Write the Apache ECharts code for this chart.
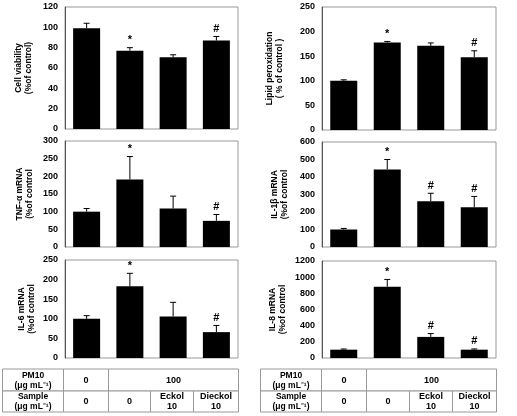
<!DOCTYPE html>
<html><head><meta charset="utf-8">
<script src="https://cdn.jsdelivr.net/npm/echarts@6/dist/echarts.min.js"></script>
<style>html,body{margin:0;padding:0;background:#fff}#c{width:517px;height:416px}</style>
</head><body><div id="c"></div>
<script>
const categories = ['Control', 'PM10', 'PM10+Eckol', 'PM10+Dieckol'];

const cellViability = [99, 77, 70.5, 87];
const cellViabilityErr = [5, 3, 2.5, 4];
const cellViabilityMark = ['', '*', '', '#'];

const lipidPerox = [100, 178, 171, 148];
const lipidPeroxErr = [2, 2, 6, 13];
const lipidPeroxMark = ['', '*', '', '#'];

const tnfMrna = [100, 191, 109, 74];
const tnfMrnaErr = [9, 65, 35, 18];
const tnfMrnaMark = ['', '*', '', '#'];

const il1bMrna = [100, 443, 261, 227];
const il1bMrnaErr = [6, 57, 46, 62];
const il1bMrnaMark = ['', '*', '#', '#'];

const il6Mrna = [100, 183, 106, 66];
const il6MrnaErr = [8, 33, 36, 17];
const il6MrnaMark = ['', '*', '', '#'];

const il8Mrna = [103, 881, 261, 103];
const il8MrnaErr = [8, 91, 41, 9];
const il8MrnaMark = ['', '*', '#', '#'];

const yTitles = [
  'Cell viability\n(%of control)',
  'Lipid peroxidation\n( % of control )',
  'TNF-α mRNA\n(%of control',
  'IL-1β mRNA\n(%of control',
  'IL-6 mRNA\n(%of control',
  'IL-8 mRNA\n(%of control'
];
const yMax = [120, 250, 300, 600, 250, 1200];
const yInterval = [20, 50, 50, 100, 50, 200];

const tableRowLabels = ['PM10\n(μg mL⁻¹)', 'Sample\n(μg mL⁻¹)'];
const tablePm10 = ['0', '100'];
const tableSample = ['0', '0', 'Eckol\n10', 'Dieckol\n10'];

const panels = [
  [cellViability, cellViabilityErr, cellViabilityMark],
  [lipidPerox, lipidPeroxErr, lipidPeroxMark],
  [tnfMrna, tnfMrnaErr, tnfMrnaMark],
  [il1bMrna, il1bMrnaErr, il1bMrnaMark],
  [il6Mrna, il6MrnaErr, il6MrnaMark],
  [il8Mrna, il8MrnaErr, il8MrnaMark]
];

const FONT = 'Liberation Sans, Arial, sans-serif';
const grids = [
  {left: 65, top: 7, width: 173, height: 122},
  {left: 322, top: 7, width: 174, height: 123},
  {left: 65, top: 141, width: 173, height: 106},
  {left: 322, top: 142, width: 174, height: 105},
  {left: 65, top: 260, width: 173, height: 98},
  {left: 322, top: 261, width: 174, height: 97}
];
const nameGaps = [31, 37, 30, 32, 28, 34];

const option = {
  animation: false,
  backgroundColor: '#fff',
  grid: grids.map(g => Object.assign({show: true, borderColor: '#999', borderWidth: 1, backgroundColor: 'transparent'}, g)),
  xAxis: grids.map((g, i) => ({
    type: 'category', gridIndex: i, data: categories,
    axisLine: {show: false}, axisTick: {show: false}, axisLabel: {show: false}
  })),
  yAxis: grids.map((g, i) => ({
    type: 'value', gridIndex: i, min: 0, max: yMax[i], interval: yInterval[i],
    splitLine: {show: false},
    axisLine: {show: true, lineStyle: {color: '#555', width: 1}},
    axisTick: {show: false},
    axisLabel: {fontFamily: FONT, fontWeight: 'bold', fontSize: 9, color: '#000', margin: 7,
      formatter: v => String(v)},
    name: yTitles[i], nameLocation: 'middle', nameRotate: 90, nameGap: nameGaps[i],
    nameTextStyle: {fontFamily: FONT, fontWeight: 'bold', fontSize: 8.5, color: '#000', lineHeight: 10}
  })),
  series: []
};

panels.forEach((p, i) => {
  const [vals, errs, marks] = p;
  option.series.push({
    type: 'bar', xAxisIndex: i, yAxisIndex: i, data: vals, barWidth: 27,
    itemStyle: {color: '#000'}
  });
  option.series.push({
    type: 'custom', xAxisIndex: i, yAxisIndex: i,
    data: vals.map((v, k) => [k, v, errs[k]]),
    encode: {x: 0, y: 1},
    z: 5,
    renderItem: function (params, api) {
      const k = api.value(0), v = api.value(1), e = api.value(2);
      const base = api.coord([k, v]);
      const top = api.coord([k, v + e]);
      const children = [
        {type: 'line', shape: {x1: top[0], y1: base[1], x2: top[0], y2: top[1]}, style: {stroke: '#000', lineWidth: 1}},
        {type: 'line', shape: {x1: top[0] - 3, y1: top[1], x2: top[0] + 3, y2: top[1]}, style: {stroke: '#000', lineWidth: 1}}
      ];
      const m = marks[params.dataIndex];
      if (m) {
        children.push({type: 'text', style: {text: m, x: top[0], y: top[1] - 2, align: 'center', verticalAlign: 'bottom',
          font: 'bold 11px ' + FONT, fill: '#000'}});
      }
      return {type: 'group', children: children};
    }
  });
});

function tableGraphics(xs) {
  const ys = [369, 391, 412];
  const els = [];
  const cell = (x1, x2, y1, y2, txt, fs) => {
    els.push({type: 'rect', shape: {x: x1, y: y1, width: x2 - x1, height: y2 - y1},
      style: {fill: '#fff', stroke: '#999', lineWidth: 1}});
    els.push({type: 'text', style: {text: txt, x: (x1 + x2) / 2, y: (y1 + y2) / 2 + 0.5, align: 'center', verticalAlign: 'middle',
      font: 'bold ' + fs + 'px ' + FONT, fill: '#000', lineHeight: 10}});
  };
  cell(xs[0], xs[1], ys[0], ys[1], tableRowLabels[0], 8.5);
  cell(xs[1], xs[2], ys[0], ys[1], tablePm10[0], 9);
  cell(xs[2], xs[5], ys[0], ys[1], tablePm10[1], 9);
  cell(xs[0], xs[1], ys[1], ys[2], tableRowLabels[1], 8.5);
  for (let k = 0; k < 4; k++) cell(xs[k + 1], xs[k + 2], ys[1], ys[2], tableSample[k], 9);
  return els;
}
option.graphic = [].concat(
  tableGraphics([2.5, 63.5, 108.5, 150.5, 193.5, 238.5]),
  tableGraphics([260.5, 321.5, 366.5, 409.5, 452.5, 496.5])
);

const chart = echarts.init(document.getElementById('c'), null, {renderer: 'canvas'});
chart.setOption(option);
</script>
</body></html>
